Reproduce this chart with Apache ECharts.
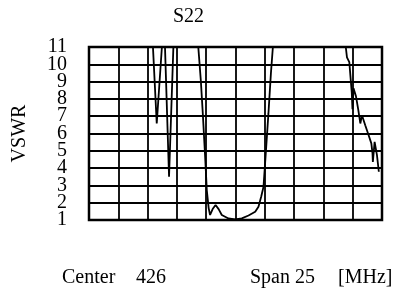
<!DOCTYPE html>
<html>
<head>
<meta charset="utf-8">
<script src="https://cdn.jsdelivr.net/npm/echarts@6/dist/echarts.min.js"></script>
<style>
  html, body { margin: 0; padding: 0; background: #fff; }
  #s22-chart { width: 398px; height: 294px; }
</style>
</head>
<body>
<div id="s22-chart"></div>
<script>
// sweep settings (MHz)
const centerMHz = 426;
const spanMHz = 25;

// trace: frequency [MHz] and VSWR
// (values above 11 run off the top of the screen)
const freqMHz = [
  413.5, 416.15, 418.92, 419.28, 419.71, 419.84, 419.97, 420.33, 420.70, 420.80,
  421.79, 422.78, 423.04, 423.21, 423.41, 423.55, 423.71, 423.83, 424.05, 424.30,
  424.56, 424.83, 425.40, 425.97, 426.54, 427.11, 427.68, 427.96, 428.19, 428.39,
  428.62, 428.81, 429.02, 429.19, 429.34, 432.38, 435.32, 435.41, 435.51, 435.71,
  435.79, 435.92, 435.98, 436.07, 436.28, 436.48, 436.65, 436.79, 437.07, 437.36,
  437.59, 437.69, 437.72, 437.87, 438.07, 438.23
];
const vswr = [
  14, 16, 11.5, 6.58, 10.9, 11.6, 11.3, 3.5, 11.0, 11.6,
  14, 11.4, 9.08, 7.16, 4.65, 2.73, 1.69, 1.29, 1.63, 1.87,
  1.63, 1.29, 1.09, 1.03, 1.09, 1.26, 1.48, 1.77, 2.34, 2.92,
  5.23, 7.16, 9.46, 11.0, 11.6, 15, 11.4, 11.0, 10.40, 10.13,
  9.46, 8.38, 7.40, 8.62, 8.15, 7.35, 6.58, 7.06, 6.48, 5.90,
  5.43, 4.85, 4.36, 5.52, 4.75, 3.79
];

// vertical scale 1..11
const vswrMin = 1;
const vswrMax = 11;

// screen annotations
const titleText = 'S22';
const yName = 'VSWR';
const footerTexts = ['Center', String(centerMHz), 'Span ' + spanMHz, '[MHz]'];

const serif = '"Liberation Serif", "Times New Roman", serif';

// tick labels sit closer than their font height, so even and odd labels
// go on two overlaid axes (stops echarts dropping the ones next to 1 and 11)
function yAxisFor(parity, extra) {
  return Object.assign({
    type: 'value',
    min: vswrMin,
    max: vswrMax,
    interval: 1,
    position: 'left',
    axisLine: { show: false },
    axisTick: { show: false },
    splitLine: { show: false },
    axisLabel: {
      margin: 22,
      fontFamily: serif,
      fontSize: 20,
      color: '#000',
      formatter: (v) => (v % 2 === parity ? String(v) : ''),
    },
  }, extra);
}

function buildOption() {
  const half = spanMHz / 2;
  const evenAxis = yAxisFor(0, {
    name: yName,
    nameLocation: 'middle',
    nameGap: 59,
    nameRotate: 90,
    nameTextStyle: { fontFamily: serif, fontSize: 20, color: '#000' },
    splitLine: { show: true, lineStyle: { color: '#000', width: 1.8 } },
  });
  evenAxis.axisLabel.showMinLabel = false;
  evenAxis.axisLabel.showMaxLabel = false;
  const oddAxis = yAxisFor(1, {});
  oddAxis.axisLabel.showMinLabel = true;
  oddAxis.axisLabel.showMaxLabel = true;

  return {
    animation: false,
    title: {
      text: titleText,
      left: 173,
      top: 7,
      padding: 0,
      textStyle: { fontFamily: serif, fontSize: 20, fontWeight: 'normal', color: '#000' },
    },
    grid: {
      left: 89,
      top: 47,
      width: 293,
      height: 173,
      show: true,
      borderColor: '#000',
      borderWidth: 2.5,
    },
    xAxis: {
      type: 'value',
      min: -half,
      max: half,
      interval: spanMHz / 10,
      axisLine: { show: false },
      axisTick: { show: false },
      axisLabel: { show: false },
      splitLine: { show: true, lineStyle: { color: '#000', width: 1.8 } },
    },
    yAxis: [evenAxis, oddAxis],
    series: [
      {
        type: 'line',
        yAxisIndex: 0,
        data: freqMHz.map((f, i) => [f - centerMHz, vswr[i]]),
        showSymbol: false,
        clip: true,
        lineStyle: { color: '#000', width: 1.8 },
      },
    ],
    graphic: [
      { type: 'text', left: 62, top: 268, style: { text: footerTexts[0], font: '20px ' + serif, fill: '#000' } },
      { type: 'text', left: 136, top: 268, style: { text: footerTexts[1], font: '20px ' + serif, fill: '#000' } },
      { type: 'text', left: 250, top: 268, style: { text: footerTexts[2], font: '20px ' + serif, fill: '#000' } },
      { type: 'text', left: 338, top: 268, style: { text: footerTexts[3], font: '20px ' + serif, fill: '#000' } },
    ],
  };
}

const chart = echarts.init(document.getElementById('s22-chart'));
chart.setOption(buildOption());
window.addEventListener('resize', function () {
  chart.resize();
});
</script>
</body>
</html>
